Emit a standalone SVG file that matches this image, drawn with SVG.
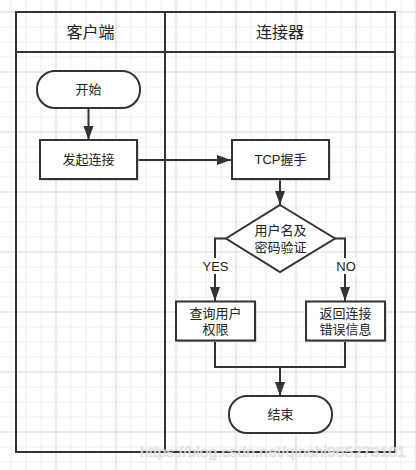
<svg xmlns="http://www.w3.org/2000/svg" width="416" height="470" viewBox="0 0 416 470">
<defs>
<pattern id="minor" x="10.5" y="11.5" width="15" height="15" patternUnits="userSpaceOnUse">
<path d="M0 0.5H15M0.5 0V15" fill="none" stroke="#ececec" stroke-width="1"/>
</pattern>
<pattern id="major" x="-4.5" y="11.5" width="60" height="60" patternUnits="userSpaceOnUse">
<path d="M0 0.5H60M0.5 0V60" fill="none" stroke="#dedede" stroke-width="1"/>
</pattern>
<marker id="arr" markerUnits="userSpaceOnUse" markerWidth="16" markerHeight="12" refX="14" refY="5" orient="auto">
<path d="M0 0L14 5L0 10Z" fill="#333"/>
</marker>
<style>
.box{fill:#fff;stroke:#333;stroke-width:2}
.sh{fill:#bbb}
.lane{fill:none;stroke:#333;stroke-width:2}
.con{fill:none;stroke:#333;stroke-width:2}
.t{font-family:"Liberation Sans","Noto Sans CJK SC",sans-serif;font-size:13px;fill:#222;text-anchor:middle;dominant-baseline:central}
.h{font-size:16px}
.lbl{fill:#fff}
</style>
</defs>
<rect width="416" height="470" fill="#fff"/>
<rect width="416" height="470" fill="url(#minor)"/>
<rect width="416" height="470" fill="url(#major)"/>

<g id="lanes">
<rect class="lane" x="16" y="12" width="379" height="440"/>
<line class="lane" x1="16" y1="52" x2="395" y2="52"/>
<line class="lane" x1="165" y1="12" x2="165" y2="452"/>
<text class="t h" x="90.5" y="32">客户端</text>
<text class="t h" x="280" y="32">连接器</text>
</g>

<g id="connectors">
<line class="con" x1="88.5" y1="108" x2="88.5" y2="140" marker-end="url(#arr)"/>
<line class="con" x1="137" y1="160" x2="231" y2="160" marker-end="url(#arr)"/>
<line class="con" x1="280" y1="179" x2="280" y2="205" marker-end="url(#arr)"/>
<polyline class="con" points="226,238.5 215,238.5 215,301" marker-end="url(#arr)"/>
<polyline class="con" points="335,238.5 345,238.5 345,301" marker-end="url(#arr)"/>
<polyline class="con" points="215,341 215,367 345,367 345,341"/>
<line class="con" x1="280" y1="367" x2="280" y2="396" marker-end="url(#arr)"/>
<rect class="lbl" x="204" y="258" width="23" height="16"/>
<text class="t" x="215.5" y="266">YES</text>
<rect class="lbl" x="336" y="258" width="20" height="16"/>
<text class="t" x="346" y="266">NO</text>
</g>

<g id="start">
<rect class="box" x="37" y="71" width="103" height="37" rx="18" ry="18"/>
<text class="t" x="88.5" y="89.5">开始</text>
</g>

<g id="connect">
<rect class="sh" x="41.5" y="141.5" width="97" height="39"/>
<rect class="box" x="40" y="140" width="97" height="39"/>
<text class="t" x="88.5" y="159.5">发起连接</text>
</g>

<g id="tcp">
<rect class="sh" x="233.5" y="141.5" width="97" height="39"/>
<rect class="box" x="232" y="140" width="97" height="39"/>
<text class="t" x="280.5" y="159.5">TCP握手</text>
</g>

<g id="verify">
<polygon class="box" points="280,205 335,238.5 280,272 226,238.5"/>
<text class="t" x="280.5" y="230.5">用户名及</text>
<text class="t" x="280.5" y="247">密码验证</text>
</g>

<g id="query">
<rect class="sh" x="177.5" y="303" width="79" height="39"/>
<rect class="box" x="176" y="301.5" width="79" height="39"/>
<text class="t" x="215.5" y="313">查询用户</text>
<text class="t" x="215.5" y="329">权限</text>
</g>

<g id="error">
<rect class="sh" x="307.5" y="303" width="79" height="39"/>
<rect class="box" x="306" y="301.5" width="79" height="39"/>
<text class="t" x="345.5" y="313">返回连接</text>
<text class="t" x="345.5" y="329">错误信息</text>
</g>

<g id="end">
<rect class="box" x="229" y="396" width="103" height="37" rx="18" ry="18"/>
<text class="t" x="280.5" y="414.5">结束</text>
</g>

<text x="140" y="457" font-family="Liberation Sans, sans-serif" font-size="15" textLength="266" lengthAdjust="spacingAndGlyphs" fill="#fff" fill-opacity="0.75" stroke="#d4d4d4" stroke-width="0.6">https://blog.csdn.net/qinshi965273101</text>
</svg>
